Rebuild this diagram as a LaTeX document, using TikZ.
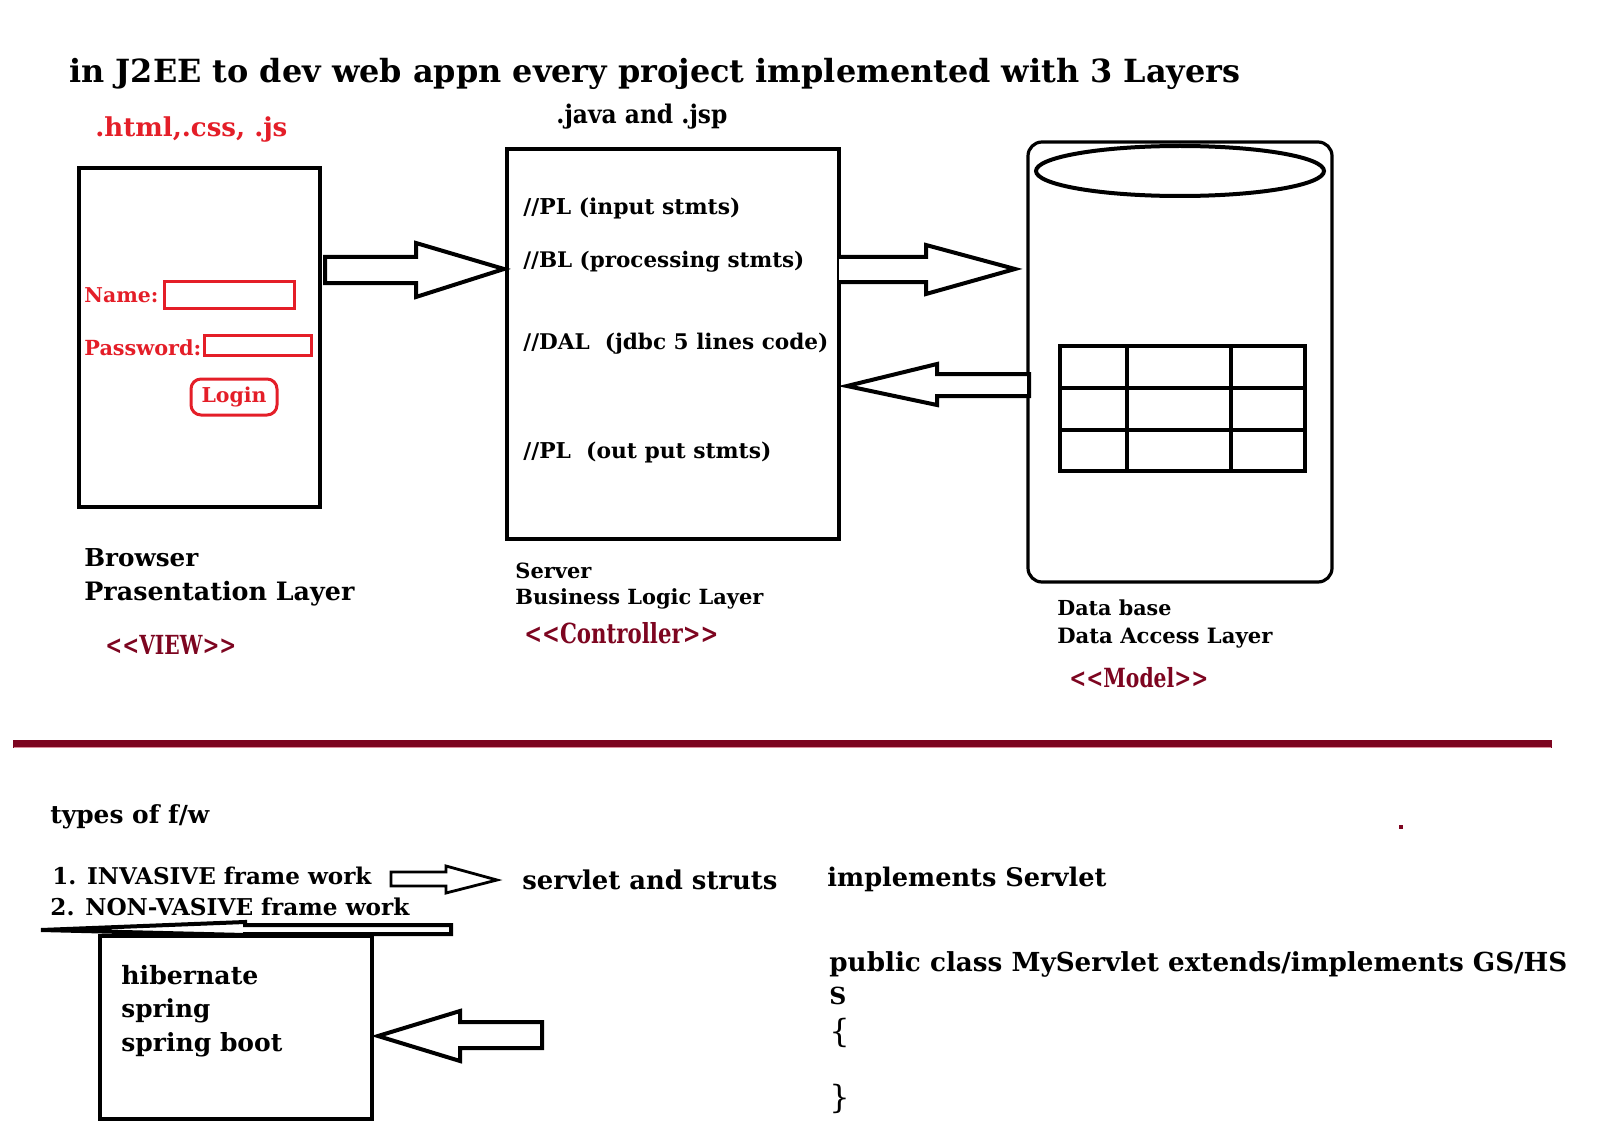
\documentclass[tikz,border=0pt]{standalone}
\usepackage{fontspec}
\setmainfont{DejaVu Serif}
\usepackage{graphicx}
\definecolor{webred}{RGB}{228,30,40}
\definecolor{maroon}{RGB}{125,5,32}
\definecolor{pinkline}{RGB}{220,140,155}
\newcommand{\fitw}[2]{\resizebox{#1}{!}{\bfseries #2}}
\newcommand{\fitt}[2]{\scalebox{1}[1.3]{\resizebox{#1}{!}{\bfseries #2}}}
\newcommand{\dlt}{<\kern0pt<}
\newcommand{\dgt}{>\kern0pt>}
\tikzset{
  txt/.style={anchor=base west, inner sep=0pt, font=\bfseries},
  boxline/.style={draw=black, line width=2pt},
  redbox/.style={draw=webred, line width=1.5pt},
  blockarrow/.style={draw=black, line width=2pt, fill=white, line join=miter},
}
\begin{document}
\begin{tikzpicture}[x=0.5pt,y=-0.5pt]
\useasboundingbox (0,0) rectangle (1600,1139);

% title
\node[txt] (title) at (69,83) {\fitw{585.5pt}{in J2EE to dev web appn every project implemented with 3 Layers}};
\node[txt, text=webred] (html) at (95,137) {\fitw{96pt}{.html,.css, .js}};
\node[txt] (java) at (556,124) {\scalebox{1}[1.1]{\resizebox{85.5pt}{!}{\bfseries .java and .jsp}}};

% browser
\draw[boxline] (79,168) rectangle (320,507);
\node[txt, text=webred] (name) at (84,302) {\fitw{37pt}{Name:}};
\draw[redbox] (164,281) rectangle (294,308);
\node[txt, text=webred] (pwd) at (84,355) {\fitw{58.5pt}{Password:}};
\draw[redbox] (204,335) rectangle (311,355);
\draw[redbox, rounded corners=5pt] (191,379) rectangle (277,415);
\node[inner sep=0pt, text=webred] (login) at (234,397) {\fitw{32.5pt}{Login}};

% arrow browser -> server
\draw[blockarrow] (325,257) -- (416,257) -- (416,243) -- (504,269) -- (416,297) -- (416,283) -- (325,283) -- cycle;

% server
\draw[boxline] (507,149) rectangle (839,539);
\node[txt] (pl1) at (523,215) {\fitw{108.5pt}{//PL (input stmts)}};
\node[txt] (bl) at (523,268) {\fitw{140.5pt}{//BL (processing stmts)}};
\node[txt] (dal) at (523,349) {\fitw{152.5pt}{//DAL\ \ (jdbc 5 lines code)}};
\node[txt] (pl2) at (523,458) {\fitw{124pt}{//PL\ \ (out put stmts)}};

% arrow server -> db
\draw[blockarrow] (839,257) -- (926,257) -- (926,245) -- (1015,269) -- (926,294) -- (926,282) -- (839,282);

% db
\draw[draw=black, line width=1.6pt, rounded corners=7pt] (1028,142) rectangle (1332,582);
\draw[draw=black, line width=2pt] (1180,171) ellipse [x radius=144, y radius=25];
\draw[draw=black, line width=2pt] (1060,346) rectangle (1305,471);
\draw[draw=black, line width=2pt] (1127,346) -- (1127,471) (1231,346) -- (1231,471)
  (1060,388) -- (1305,388) (1060,430) -- (1305,430);

% arrow db -> server
\draw[blockarrow] (1029,374) -- (937,374) -- (937,364) -- (847,386) -- (937,405) -- (937,396) -- (1029,396) -- cycle;

% labels
\node[txt] (browserl) at (84,566) {\fitw{57pt}{Browser}};
\node[txt] (presl) at (84,600) {\fitw{135pt}{Prasentation Layer}};
\node[txt, text=maroon] (view) at (105,654) {\fitt{65.5pt}{\dlt VIEW\dgt}};
\node[txt] (serverl) at (515,578) {\fitw{38pt}{Server}};
\node[txt] (bll) at (515,604) {\fitw{124pt}{Business Logic Layer}};
\node[txt, text=maroon] (ctrl) at (524,643) {\fitt{97pt}{\dlt Controller\dgt}};
\node[txt] (dbl) at (1057,615) {\fitw{57pt}{Data base}};
\node[txt] (dall) at (1057,643) {\fitw{107.5pt}{Data Access Layer}};
\node[txt, text=maroon] (model) at (1069,687) {\fitt{69.5pt}{\dlt Model\dgt}};

% separator
\draw[maroon, line width=4pt] (13,744) -- (1552,744);
\draw[pinkline, line width=0.5pt] (14,747) -- (1551,747);
\fill[maroon] (1399,825) rectangle (1403,829);

% lower part
\node[txt] (types) at (50,823) {\fitw{79.5pt}{types of f/w}};
\node[txt] (inv) at (52,884) {\fitw{159.5pt}{1. INVASIVE frame work}};
\node[txt] (noninv) at (50,915) {\fitw{179.5pt}{2. NON-VASIVE frame work}};
\draw[blockarrow, line width=1.4pt] (391,872) -- (446,872) -- (446,866) -- (497,880) -- (446,893) -- (446,886) -- (391,886) -- cycle;
\node[txt] (servlet) at (522,889) {\fitw{127.5pt}{servlet and struts}};
\node[txt] (impl) at (827,886) {\fitw{139.5pt}{implements Servlet}};

\draw[blockarrow, line width=2pt] (451,925) -- (245,925) -- (245,922) -- (41,930) -- (245,935) -- (245,934) -- (451,934) -- cycle;
\draw[draw=black, line width=1.6pt] (100,936) rectangle (372,1119);
\node[txt] (hib) at (121,984) {\fitw{68.5pt}{hibernate}};
\node[txt] (spr) at (121,1017) {\fitw{44.5pt}{spring}};
\node[txt] (sprb) at (121,1051) {\fitw{80.5pt}{spring boot}};
\draw[blockarrow] (542,1022) -- (460,1022) -- (460,1011) -- (378,1036) -- (460,1061) -- (460,1048) -- (542,1048) -- cycle;

\node[txt] (pub) at (829,971) {\fitw{369pt}{public class MyServlet extends/implements GS/HS}};
\node[txt] (s) at (829,1004) {\fitw{8.5pt}{S}};
\node[txt, font=\fontsize{16}{18}\selectfont] (ob) at (829,1042) {\{};
\node[txt, font=\fontsize{16}{18}\selectfont] (cb) at (829,1108) {\}};
\end{tikzpicture}
\end{document}
